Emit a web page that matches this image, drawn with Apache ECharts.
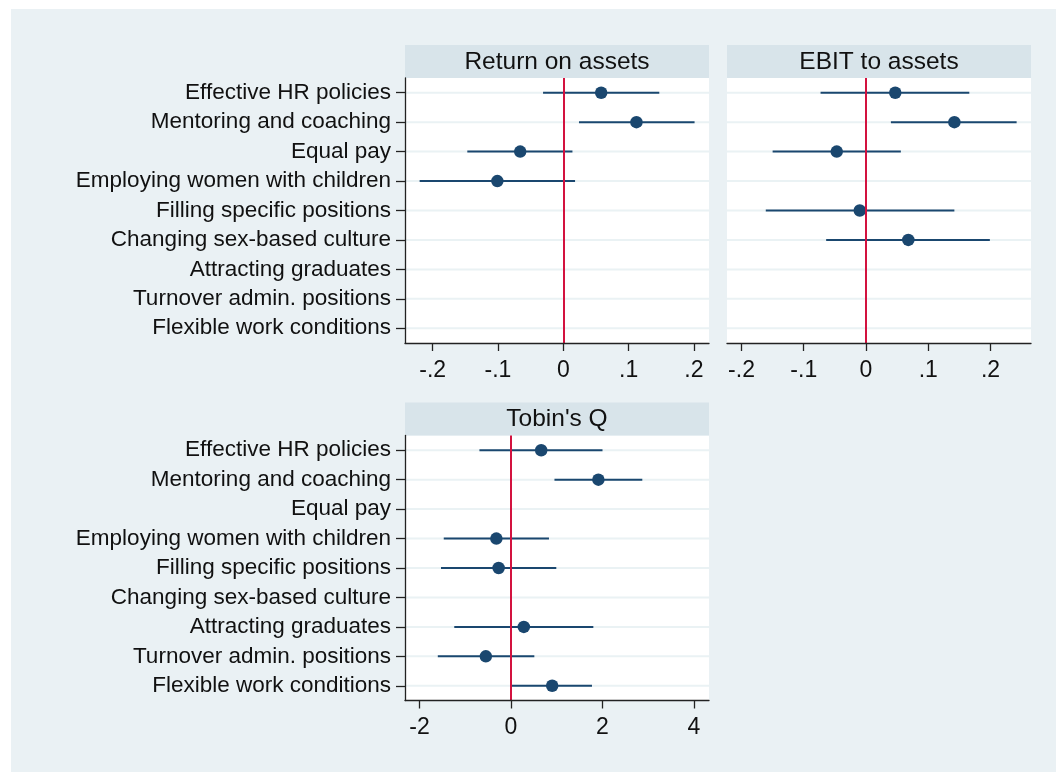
<!DOCTYPE html>
<html>
<head>
<meta charset="utf-8">
<script src="https://cdn.jsdelivr.net/npm/echarts@6/dist/echarts.min.js"></script>
<style>
  html, body { margin: 0; padding: 0; background: #ffffff; }
  #frame { position: absolute; left: 11px; top: 9px; right: 0; bottom: 0; background: #EAF1F4; }
  #chart { position: absolute; left: 0; top: 0; width: 1056px; height: 772px; }
</style>
</head>
<body>
<div id="frame"></div>
<div id="chart"></div>
<script>
// Policy categories (rows, top to bottom)
const categories = [
  'Effective HR policies',
  'Mentoring and coaching',
  'Equal pay',
  'Employing women with children',
  'Filling specific positions',
  'Changing sex-based culture',
  'Attracting graduates',
  'Turnover admin. positions',
  'Flexible work conditions'
];

// Return on assets: point estimates and confidence bounds
const roaEst = [0.058, 0.112, -0.066, -0.101, null, null, null, null, null];
const roaLo  = [-0.031, 0.024, -0.147, -0.220, null, null, null, null, null];
const roaHi  = [0.147, 0.201, 0.014, 0.018, null, null, null, null, null];

// EBIT to assets
const ebitEst = [0.047, 0.142, -0.047, null, -0.010, 0.068, null, null, null];
const ebitLo  = [-0.073, 0.040, -0.150, null, -0.161, -0.064, null, null, null];
const ebitHi  = [0.166, 0.242, 0.056, null, 0.142, 0.199, null, null, null];

// Tobin's Q
const tobinEst = [0.66, 1.91, null, -0.32, -0.27, null, 0.28, -0.55, 0.90];
const tobinLo  = [-0.69, 0.95, null, -1.47, -1.53, null, -1.24, -1.60, 0.01];
const tobinHi  = [2.00, 2.87, null, 0.83, 0.99, null, 1.80, 0.51, 1.77];

// Axis ticks
const fracTicks = [-0.2, -0.1, 0, 0.1, 0.2];
const fracTickLabels = ['-.2', '-.1', '0', '.1', '.2'];
const tobinTicks = [-2, 0, 2, 4];
const tobinTickLabels = ['-2', '0', '2', '4'];

const panels = [
  { title: 'Return on assets', est: roaEst, lo: roaLo, hi: roaHi,
    ticks: fracTicks, tickLabels: fracTickLabels, min: -0.2424, max: 0.2231,
    left: 405, top: 78, showY: true },
  { title: 'EBIT to assets', est: ebitEst, lo: ebitLo, hi: ebitHi,
    ticks: fracTicks, tickLabels: fracTickLabels, min: -0.2233, max: 0.2651,
    left: 727, top: 78, showY: false },
  { title: "Tobin's Q", est: tobinEst, lo: tobinLo, hi: tobinHi,
    ticks: tobinTicks, tickLabels: tobinTickLabels, min: -2.317, max: 4.328,
    left: 405, top: 435.5, showY: true }
];

const PW = 304, PH = 265, STRIP = 33;
const FONT = '"Liberation Sans", Arial, Helvetica, sans-serif';
const NAVY = '#1A476F';
const RED = '#D3123F';
const GRIDLINE = '#EAF2F4';
const INK = '#111111';

const grid = [], xAxis = [], yAxis = [], series = [], graphic = [];

panels.forEach((p, i) => {
  grid.push({
    left: p.left, top: p.top, width: PW, height: PH,
    show: true, backgroundColor: '#ffffff', borderWidth: 0, z: 0
  });

  // header strip with panel title
  graphic.push({
    type: 'rect', silent: true,
    shape: { x: p.left, y: p.top - STRIP, width: PW, height: STRIP },
    style: { fill: '#D8E4EA' }
  });
  graphic.push({
    type: 'text', silent: true,
    x: p.left + PW / 2, y: p.top - STRIP / 2 + 0.5,
    style: { text: p.title, fill: INK, font: '24.5px ' + FONT,
             align: 'center', verticalAlign: 'middle' }
  });

  const tickMap = {};
  p.ticks.forEach((t, k) => { tickMap[t.toFixed(4)] = p.tickLabels[k]; });

  xAxis.push({
    type: 'value', gridIndex: i, min: p.min, max: p.max, z: 10,
    axisLine: { show: true, onZero: false, lineStyle: { color: '#222', width: 1.3 } },
    axisTick: { show: true, length: 8, customValues: p.ticks,
                lineStyle: { color: '#222', width: 1.3 } },
    axisLabel: { customValues: p.ticks, margin: 16, color: INK,
                 fontSize: 23, fontFamily: FONT,
                 formatter: v => tickMap[Number(v).toFixed(4)] },
    splitLine: { show: false }
  });

  yAxis.push({
    type: 'category', gridIndex: i, data: categories, inverse: true,
    boundaryGap: true, z: 10,
    axisLine: { show: p.showY, onZero: false, lineStyle: { color: '#222', width: 1.3 } },
    axisTick: { show: p.showY, alignWithLabel: true, interval: 0, length: 9,
                lineStyle: { color: '#222', width: 1.3 } },
    axisLabel: { show: p.showY, interval: 0, margin: 14, color: INK,
                 fontSize: 22.5, fontFamily: FONT },
    splitLine: { show: false }
  });

  // horizontal row lines plus the zero reference line
  series.push({
    type: 'custom', xAxisIndex: i, yAxisIndex: i, z: 1, silent: true,
    data: categories.map((c, k) => [k]),
    encode: { y: 0 },
    renderItem: (params, api) => {
      const y = api.coord([p.min, api.value(0)])[1];
      const cs = params.coordSys;
      return { type: 'line',
               shape: { x1: cs.x, y1: y, x2: cs.x + cs.width, y2: y },
               style: { stroke: GRIDLINE, lineWidth: 2 } };
    },
    markLine: {
      silent: true, symbol: 'none', label: { show: false },
      lineStyle: { color: RED, width: 2, type: 'solid' },
      data: [{ xAxis: 0 }]
    }
  });

  // confidence intervals
  const ciData = [];
  const ptData = [];
  categories.forEach((c, k) => {
    if (p.est[k] !== null) {
      ciData.push([p.lo[k], p.hi[k], k]);
      ptData.push([p.est[k], k]);
    }
  });
  series.push({
    type: 'custom', xAxisIndex: i, yAxisIndex: i, z: 3, silent: true,
    data: ciData,
    encode: { x: [0, 1], y: 2 },
    renderItem: (params, api) => {
      const a = api.coord([api.value(0), api.value(2)]);
      const b = api.coord([api.value(1), api.value(2)]);
      return { type: 'line',
               shape: { x1: a[0], y1: a[1], x2: b[0], y2: b[1] },
               style: { stroke: NAVY, lineWidth: 2 } };
    }
  });

  // point estimates
  series.push({
    type: 'scatter', xAxisIndex: i, yAxisIndex: i, z: 4, silent: true,
    data: ptData, symbol: 'circle', symbolSize: 12.5,
    itemStyle: { color: NAVY, opacity: 1 }
  });
});

const chart = echarts.init(document.getElementById('chart'), null, { renderer: 'canvas' });
chart.setOption({
  backgroundColor: 'transparent',
  animation: false,
  grid, xAxis, yAxis, series, graphic
});
</script>
</body>
</html>
